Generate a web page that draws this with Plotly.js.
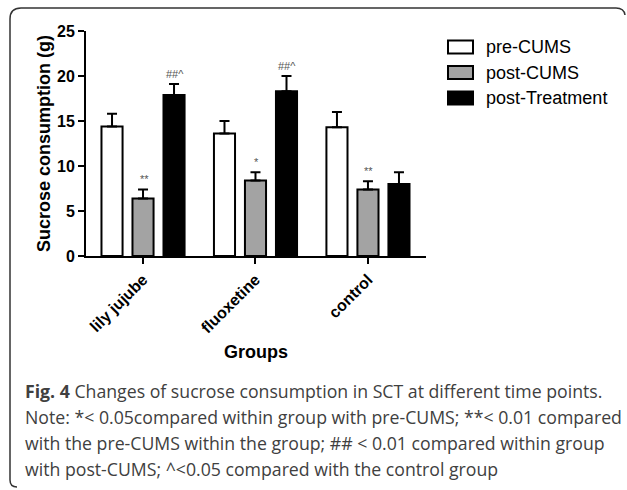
<!DOCTYPE html>
<html>
<head>
<meta charset="utf-8">
<script src="https://cdn.plot.ly/plotly-3.0.1.min.js"></script>
<style>html,body{margin:0;padding:0;background:#fff;}#chart{width:627px;height:490px;}</style>
</head>
<body>
<div id="chart"></div>
<script>
var groups = ["lily jujube", "fluoxetine", "control"];
var seriesNames = ["pre-CUMS", "post-CUMS", "post-Treatment"];
var preCUMS = [14.4, 13.6, 14.3];
var preCUMSErr = [1.4, 1.4, 1.7];
var postCUMS = [6.4, 8.4, 7.4];
var postCUMSErr = [1.0, 0.9, 0.9];
var postTreat = [17.9, 18.3, 8.0];
var postTreatErr = [1.2, 1.7, 1.3];
var sigPre = ["", "", ""];
var sigPostCUMS = ["**", "*", "**"];
var sigPostTreat = ["##^", "##^", ""];
var yTicks = [0, 5, 10, 15, 20, 25];
var captionTitle = "Fig. 4";
var captionLines = [
  "Changes of sucrose consumption in SCT at different time points.",
  "Note: *< 0.05compared within group with pre-CUMS; **< 0.01 compared",
  "with the pre-CUMS within the group; ## < 0.01 compared within group",
  "with post-CUMS; ^<0.05 compared with the control group"
];

var fills = ["#ffffff", "#a3a3a3", "#000000"];
var values = [preCUMS, postCUMS, postTreat];
var errs = [preCUMSErr, postCUMSErr, postTreatErr];
var sigs = [sigPre, sigPostCUMS, sigPostTreat];

// plot area in pixels
var L = 86, R = 426, T = 31, B = 256, W = 627, H = 490;
function px(x) { return (x - L) / (R - L); }
function py(y) { return (B - y) / (B - T); }

var arial = "Liberation Sans, Arial, sans-serif";

var traces = values.map(function (v, i) {
  return {
    type: "bar",
    name: seriesNames[i],
    x: groups,
    y: v,
    marker: { color: fills[i], line: { color: "#000", width: 2 } },
    error_y: { type: "data", symmetric: false, array: errs[i], arrayminus: v.map(function () { return 0; }), color: "#000", thickness: 2, width: 5 },
    showlegend: false,
    hoverinfo: "skip"
  };
});

var annotations = [];
var slot = 31;
sigs.forEach(function (s, i) {
  s.forEach(function (t, g) {
    if (!t) return;
    annotations.push({
      xref: "x", yref: "y", x: groups[g], y: values[i][g] + errs[i][g],
      xshift: (i - 1) * slot + 1, yshift: 2, yanchor: "bottom", xanchor: "center",
      text: t, showarrow: false, font: { family: arial, size: 11, color: "#555555" }
    });
  });
});

// legend
var shapes = [];
var legY = [47, 72.5, 98];
seriesNames.forEach(function (n, i) {
  shapes.push({ type: "rect", xref: "paper", yref: "paper", x0: px(448), x1: px(473), y0: py(legY[i] - 6.5), y1: py(legY[i] + 6.5), fillcolor: fills[i], line: { color: "#000", width: 2 } });
  annotations.push({ xref: "paper", yref: "paper", x: px(484), y: py(legY[i]), xanchor: "left", yanchor: "middle", text: n, showarrow: false, font: { family: arial, size: 18, color: "#000" } });
});

// frame
function P(x, y) { return px(x) + "," + py(y); }
shapes.push({ type: "path", xref: "paper", yref: "paper",
  path: "M" + P(17, 487) + " Q" + P(10, 487) + " " + P(10, 480) + " L" + P(10, 19) + " Q" + P(10, 8) + " " + P(21, 8) + " L" + P(616, 8) + " Q" + P(624, 8) + " " + P(625, 15),
  line: { color: "#333", width: 1.5 } });

// caption
var capFont = "Open Sans, Noto Sans, sans-serif";
var capY = [391, 417, 443, 469];
captionLines.forEach(function (t, i) {
  var txt = (i === 0) ? "<b>" + captionTitle + "</b> " + t : t;
  annotations.push({ xref: "paper", yref: "paper", x: px(23), y: py(capY[i]), xanchor: "left", yanchor: "middle", text: txt, showarrow: false, font: { family: capFont, size: 17.7, color: "#404040" } });
});

var layout = {
  width: W, height: H,
  margin: { l: L, r: W - R, t: T, b: H - B, pad: 0 },
  paper_bgcolor: "#fff", plot_bgcolor: "#fff",
  barmode: "group", bargap: 0.173, bargroupgap: 0.32,
  showlegend: false,
  xaxis: {
    type: "category", range: [-0.507, 2.516], fixedrange: true,
    showline: true, linecolor: "#000", linewidth: 2, showgrid: false, zeroline: false,
    ticks: "outside", ticklen: 6, tickwidth: 2, tickcolor: "#000",
    tickangle: -45, tickfont: { family: arial, size: 16, color: "#000", weight: "bold" },
    title: { text: "Groups", font: { family: arial, size: 18, color: "#000", weight: "bold" }, standoff: 10 },
    automargin: false
  },
  yaxis: {
    range: [0, 25], tickvals: yTicks, ticktext: yTicks.map(String), fixedrange: true,
    showline: true, linecolor: "#000", linewidth: 2, showgrid: false, zeroline: false,
    ticks: "outside", ticklen: 6, tickwidth: 2, tickcolor: "#000",
    tickfont: { family: arial, size: 16, color: "#000", weight: "bold" },
    title: { text: "Sucrose consumption (g)", font: { family: arial, size: 18, color: "#000", weight: "bold" }, standoff: 2 },
    automargin: false
  },
  annotations: annotations,
  shapes: shapes
};

Plotly.newPlot("chart", traces, layout, { displayModeBar: false, staticPlot: true });
</script>
</body>
</html>
